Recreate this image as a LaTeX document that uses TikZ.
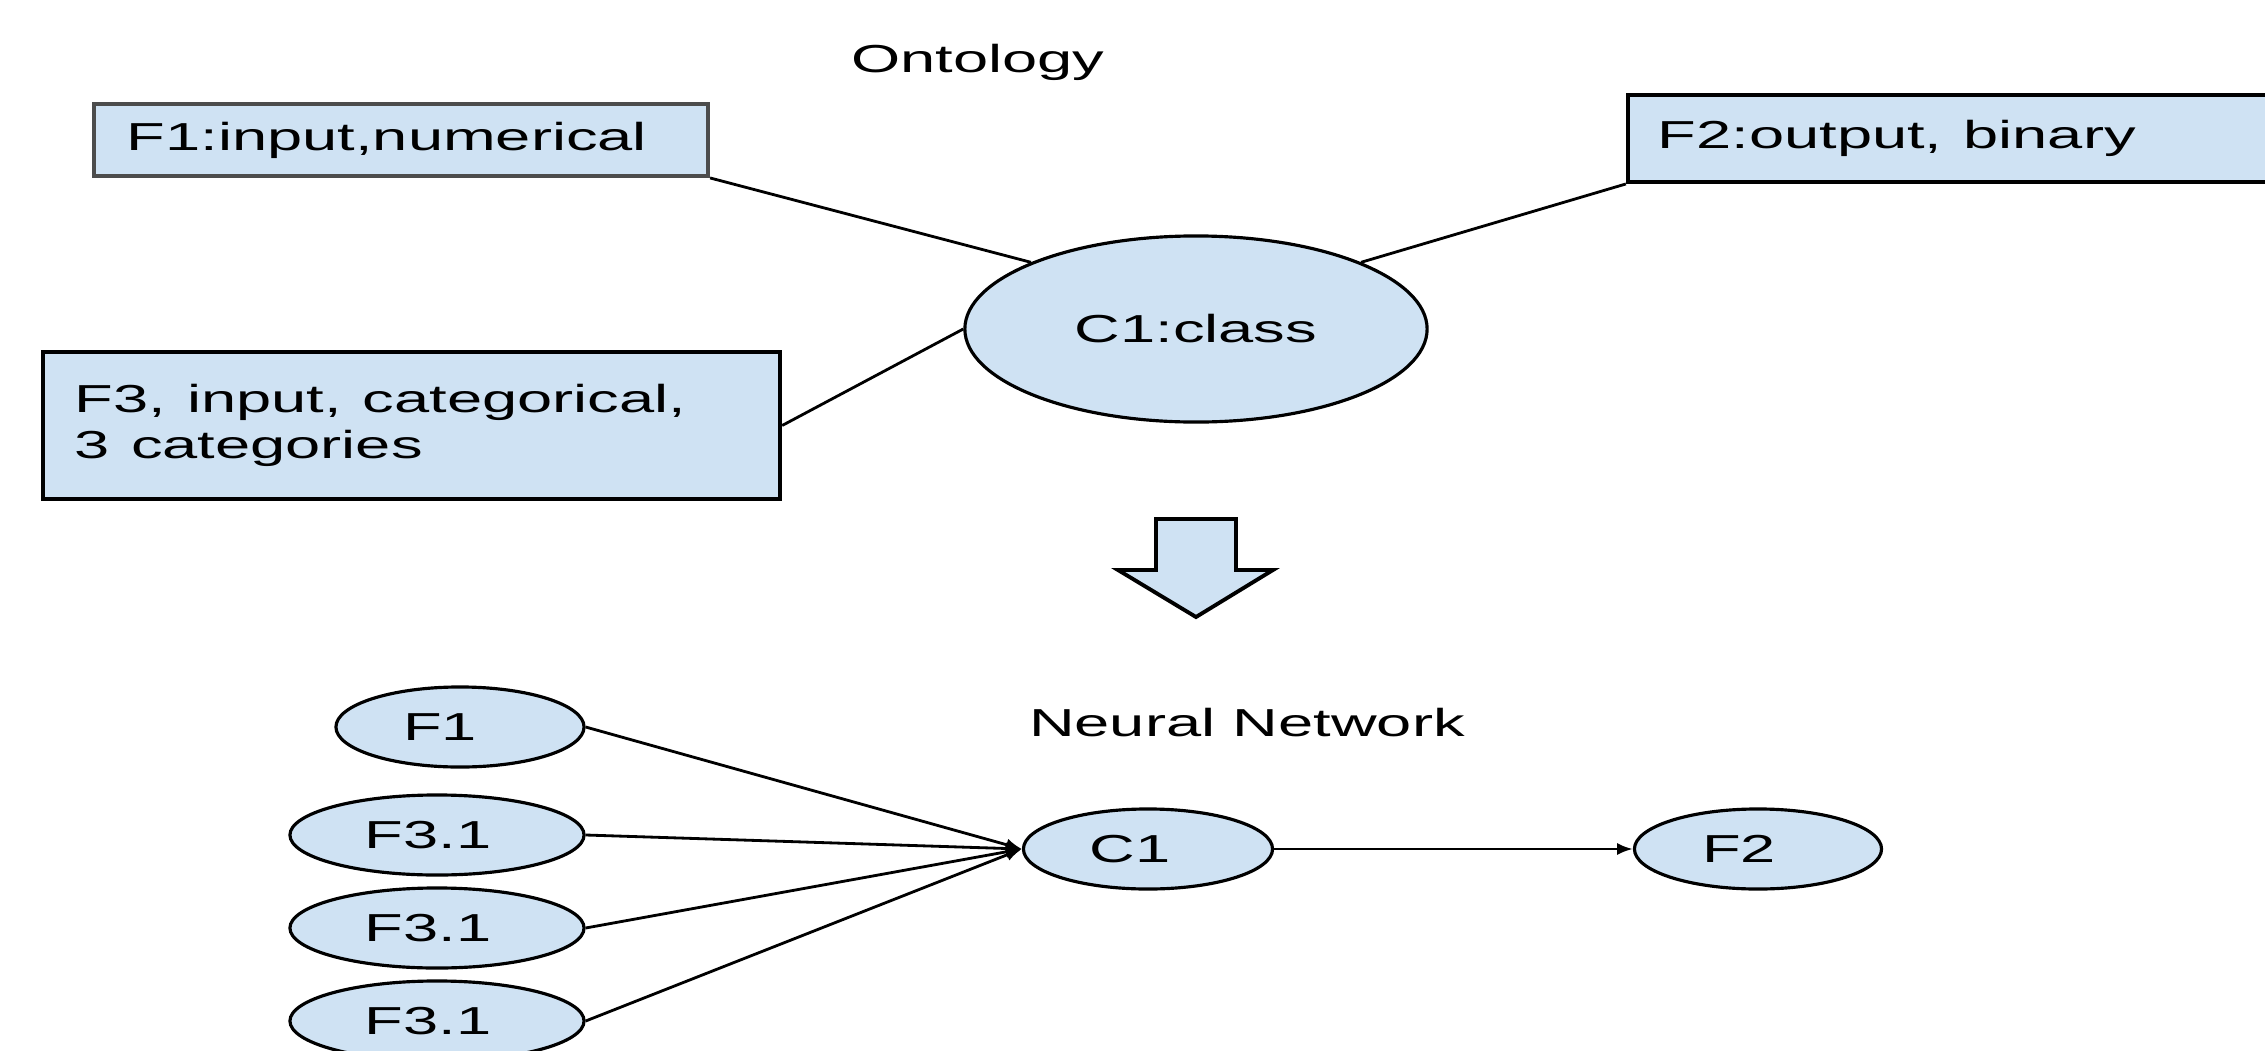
\documentclass[tikz,border=0pt]{standalone}
\usepackage{fontspec}
\setmainfont{Liberation Sans}
\usetikzlibrary{shapes.geometric,arrows.meta}
\definecolor{lb}{HTML}{CFE2F3}
\newcommand{\wt}[1]{\scalebox{1.62}[1]{#1}}
\newcommand{\lft}[2]{\wt{#1}\rule{#2}{0pt}}
\begin{document}
\begin{tikzpicture}[x=0.01cm,y=-0.01cm,
  every node/.style={font=\fontsize{11.1pt}{13.1pt}\selectfont},
  box/.style={draw, fill=lb, line width=1.1pt, rectangle, inner ysep=0pt, align=left},
  ont/.style={ellipse, draw, fill=lb, line width=0.9pt, inner sep=0pt},
  nn/.style={ellipse, draw, fill=lb, line width=0.9pt, inner sep=0pt, minimum height=0.8cm},
  conn/.style={line width=0.8pt},
  nnarrow/.style={conn, -{Latex[length=4.5pt,width=3.5pt]}},
  lbl/.style={anchor=base, inner sep=0pt}]
\useasboundingbox (0,0) rectangle (2265,1051);
\fill[white] (0,0) rectangle (2265,1051);

% Ontology part
\node[lbl] (ontl) at (978,72) {\wt{Ontology}};
\node[box, draw=gray!60!black, inner xsep=0.33cm, text width=5.48cm, minimum height=0.72cm] (f1) at (401,140) {\wt{F1:input,numerical}};
\node[box, inner xsep=0.30cm, text width=6.4cm, minimum height=0.87cm] (f2) at (1978,138.5) {\wt{F2:output, binary}};
\node[box, inner xsep=0.32cm, text width=6.73cm, minimum height=1.47cm] (f3) at (411.5,425.5) {\wt{F3, input, categorical,}\\\wt{3 categories}};
\node[ont, minimum width=4.62cm, minimum height=1.86cm] (c1) at (1196,329) {\wt{C1:class}};

\draw[conn] (f1.south east) -- (c1.158);
\draw[conn] (f3.east) -- (c1.west);
\draw[conn] (c1.22) -- (f2.south west);

% transition arrow
\draw[fill=lb, line width=1.1pt, line join=miter] (1156,519) -- (1236,519) -- (1236,570) -- (1273,570) -- (1196,617) -- (1118,570) -- (1156,570) -- cycle;

% Neural network part
\node[lbl] (nnl) at (1247,736) {\wt{Neural Network}};
\node[nn, minimum width=2.48cm] (nf1) at (460,727) {\lft{F1}{0.4cm}};
\node[nn, minimum width=2.94cm] (nf31) at (437,835) {\lft{F3.1}{0.18cm}};
\node[nn, minimum width=2.94cm] (nf32) at (437,928) {\lft{F3.1}{0.18cm}};
\node[nn, minimum width=2.94cm] (nf33) at (437,1021) {\lft{F3.1}{0.18cm}};
\node[nn, minimum width=2.49cm] (nc1) at (1148,849) {\lft{C1}{0.36cm}};
\node[nn, minimum width=2.47cm] (nf2) at (1758,849) {\lft{F2}{0.38cm}};

\draw[nnarrow] (nf1.east) -- (nc1.west);
\draw[nnarrow] (nf31.east) -- (nc1.west);
\draw[nnarrow] (nf32.east) -- (nc1.west);
\draw[nnarrow] (nf33.east) -- (nc1.west);
\draw[nnarrow] (nc1.east) -- (nf2.west);
\end{tikzpicture}
\end{document}
